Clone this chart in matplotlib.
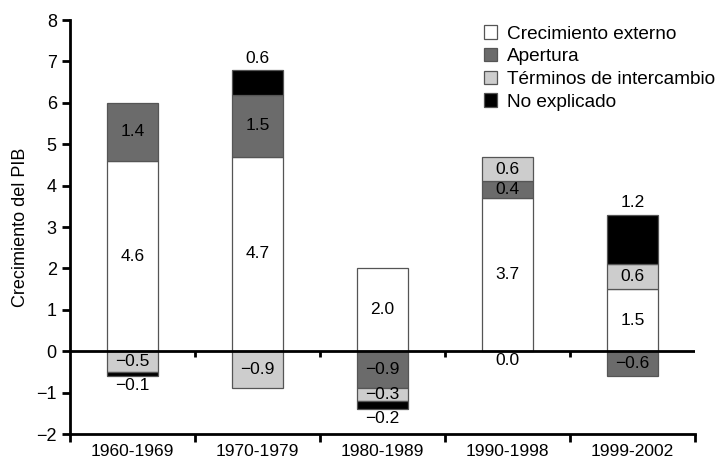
import matplotlib.pyplot as plt
import numpy as np

plt.rcParams['font.family'] = ['Liberation Sans', 'DejaVu Sans']

periodos = ['1960-1969', '1970-1979', '1980-1989', '1990-1998', '1999-2002']
series = ['Crecimiento externo', 'Apertura', 'Términos de intercambio', 'No explicado']
crecimiento_externo = [4.6, 4.7, 2.0, 3.7, 1.5]
apertura = [1.4, 1.5, -0.9, 0.4, -0.6]
terminos = [-0.5, -0.9, -0.3, 0.6, 0.6]
no_explicado = [-0.1, 0.6, -0.2, 0.0, 1.2]

colores = ['white', '#6b6b6b', '#cdcdcd', 'black']


def plot_pib():
    fig = plt.figure(figsize=(7.17, 4.62), dpi=100)
    ax = fig.add_axes([0.0976, 0.0606, 0.872, 0.896])

    x = np.arange(len(periodos))
    width = 0.41
    pos_base = np.zeros(len(periodos))
    neg_base = np.zeros(len(periodos))

    for nombre, valores, color in zip(series,
                                      [crecimiento_externo, apertura, terminos, no_explicado],
                                      colores):
        valores = np.array(valores)
        base = np.where(valores > 0, pos_base, neg_base)
        ax.bar(x, valores, width, bottom=base, color=color, edgecolor='#555555',
               linewidth=0.9, label=nombre, zorder=2)
        for i, v in enumerate(valores):
            txt = f'{v:.1f}'.replace('-', '\u2212')
            if nombre == 'No explicado':
                # etiqueta fuera de la barra
                if v > 0:
                    ax.text(x[i], base[i] + v + 0.1, txt, ha='center', va='bottom', fontsize=12.5)
                else:
                    ax.text(x[i], base[i] + v - 0.05, txt, ha='center', va='top', fontsize=12.5)
            else:
                ax.text(x[i], base[i] + v / 2, txt, ha='center', va='center', fontsize=12.5, zorder=3)
        pos_base = pos_base + np.where(valores > 0, valores, 0)
        neg_base = neg_base + np.where(valores < 0, valores, 0)

    # línea del cero con marcas
    ax.axhline(0, color='black', linewidth=2, zorder=4)
    ax.vlines(x[:-1] + 0.5, -0.15, 0, color='black', linewidth=2, zorder=4)

    ax.set_xlim(-0.5, len(periodos) - 0.5)
    ax.set_ylim(-2, 8)
    ax.set_yticks(range(-2, 9))
    ax.set_yticklabels([str(t).replace('-', '\u2212') for t in range(-2, 9)])
    ax.set_xticks(x)
    ax.set_xticklabels(periodos)
    ax.set_xticks(np.arange(-0.5, len(periodos)), minor=True)
    ax.tick_params(axis='x', which='major', length=0, labelsize=12.5, pad=7)
    ax.tick_params(axis='x', which='minor', length=6, width=2)
    ax.tick_params(axis='y', length=6, width=2, labelsize=13)

    for s in ['top', 'right']:
        ax.spines[s].set_visible(False)
    for s in ['left', 'bottom']:
        ax.spines[s].set_linewidth(2)

    ax.set_ylabel('Crecimiento del PIB', fontsize=13, labelpad=5)

    ax.legend(loc='upper right', bbox_to_anchor=(1.05, 1.015), frameon=False, fontsize=13.7,
              handlelength=0.7, handleheight=0.7, handletextpad=0.5, labelspacing=0.28,
              borderaxespad=0.2)

    plt.savefig('out.png', dpi=100)


if __name__ == '__main__':
    plot_pib()
